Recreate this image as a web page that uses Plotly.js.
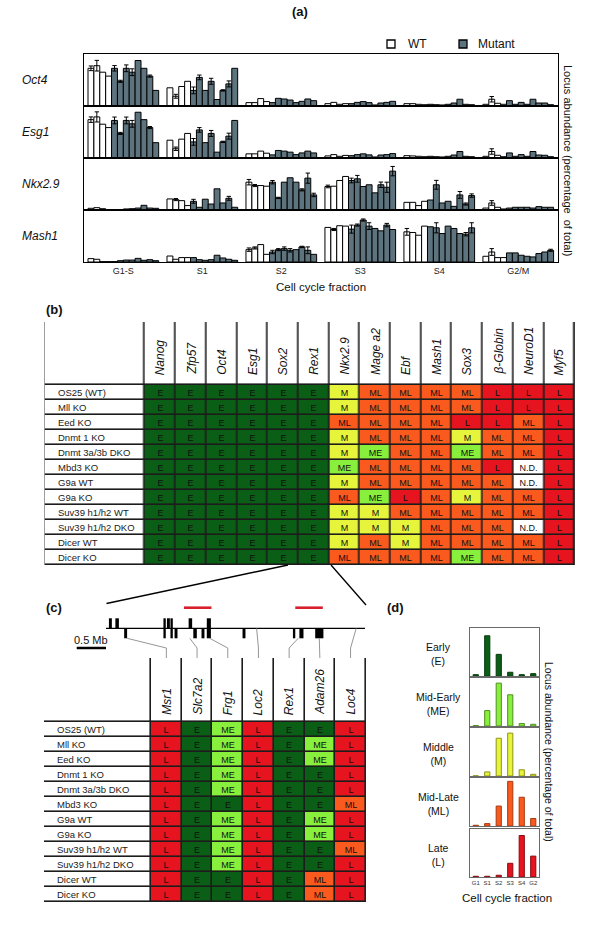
<!DOCTYPE html>
<html><head><meta charset="utf-8">
<script src="https://cdn.plot.ly/plotly-3.0.1.min.js"></script>
<style>html,body{margin:0;padding:0;background:#fff}#chart{width:600px;height:931px}</style>
</head><body><div id="chart"></div>
<script>
// ================= DATA =================
const N = NaN;
// ---- panel (a): locus abundance (% of total) per cell-cycle fraction; 4 WT + 8 mutant lines per fraction
const fractions = ['G1-S','S1','S2','S3','S4','G2/M'];
const rowGenes = ['Oct4','Esg1','Nkx2.9','Mash1'];

const oct4WT     = [29,31,26,23, 14,7.5,15,19, 2.6,2.6,5.7,3.4, 1.8,2.8,1.3,1.8, 1.8,1.8,1.3,1.0, 1.3,5.2,2.1,1.3];
const oct4WTErr  = [1.8,4.1,N,N, N,1.5,N,N, N,N,N,N, N,N,N,N, N,N,N,N, N,2.1,N,N];
const oct4Mut    = [29,19,29,26,35,29,23,12, 12,22,12,19,5,12,17,29, 2.6,5.9,5.4,4.6,2.6,3.6,5.4,4.1,
                    1.8,2.8,3.4,2.6,0.8,2.3,2.8,3.6, 1.3,1.0,0.8,1.3,2.3,5.2,1.3,1.0, 4.1,1.3,2.8,1.3,5.2,2.3,2.3,1.0];
const oct4MutErr = [2.1,0.8,2.6,2.6,N,N,0.8,N, 2.6,1.8,N,2.3,N,0.5,2.3,N, N,N,N,N,N,N,N,N,
                    N,N,N,N,N,N,N,N, N,N,N,N,N,N,N,N, N,N,N,N,N,N,N,N];

const esg1WT     = [29.5,31.6,26,23.4, 13.7,7.1,14.5,18.9, 3.2,3.2,5.3,3.7, 1.6,2.6,1.3,2.0, 1.8,1.6,1.3,1.0, 1.3,5.0,2.1,1.0];
const esg1WTErr  = [2.1,3.9,N,N, N,1.3,N,N, N,N,N,N, N,N,N,N, N,N,N,N, N,2.1,N,N];
const esg1Mut    = [28.9,18.9,28.9,26.3,35.2,29.5,23.4,11.8, 12.4,21.6,11.8,18.9,4.5,12.4,16.8,28.9, 2.4,5.8,5.3,4.5,2.6,3.9,5.3,3.9,
                    1.8,2.6,3.2,2.4,0.8,2.3,2.6,3.4, 1.3,1.0,0.8,1.3,2.3,5.0,1.3,1.0, 3.9,1.3,2.6,1.3,5.0,2.3,2.1,1.0];
const esg1MutErr = [2.6,0.8,2.6,2.6,N,N,0.8,N, 2.6,1.8,N,2.3,N,0.5,2.3,N, N,N,N,N,N,N,N,N,
                    N,N,N,N,N,N,N,N, N,N,N,N,N,N,N,N, N,N,N,N,N,N,N,N];

const nkxWT      = [1.3,1.8,1.0,0.3, 8.5,8.0,7.2,3.4, 21.4,18.8,18.8,18.3, 18.1,18.3,22.7,25.8, 5.9,5.9,3.4,6.7, 1.5,5.4,2.1,0.8];
const nkxWTErr   = [N,N,N,N, N,0.8,N,N, 2.1,0.8,N,N, 1.0,N,N,N, N,N,N,N, N,1.8,N,N];
const nkxMut     = [0.3,0.3,0.8,1.0,1.5,3.6,1.5,1.3, 6.7,2.1,8.3,4.6,16.3,5.4,9.0,2.1, 21.4,9.3,21.4,24.8,21.4,15.5,24.5,11.6,
                    22.7,24.0,18.1,19.4,13.2,19.4,17.5,29.9, 7.7,19.4,5.4,6.7,2.8,11.6,4.6,11.1, 1.5,2.1,2.1,2.1,1.5,2.6,2.1,2.1];
const nkxMutErr  = [N,N,N,N,N,N,N,N, 1.5,N,N,N,N,N,1.5,N, 1.3,0.5,N,N,N,0.8,3.9,1.3,
                    1.8,2.6,N,N,N,2.1,3.9,3.6, N,3.4,N,N,N,2.6,0.8,1.3, N,N,N,N,N,N,N,N];

const mash1WT    = [2.6,2.1,0.3,0.3, 4.6,2.1,3.4,3.4, 9.5,10.8,13.4,5.9, 26.6,25.0,27.9,27.6, 23.2,22.7,20.6,27.6, 4.4,7.7,3.4,3.4];
const mash1WTErr = [N,N,N,N, N,N,N,N, 1.3,0.8,N,N, N,0.8,N,N, 2.6,N,N,N, N,2.6,N,N];
const mash1Mut   = [0.3,1.0,1.5,1.5,2.8,1.3,1.8,1.0, 3.4,1.8,1.3,1.8,5.2,3.1,2.1,1.3, 7.7,9.5,10.3,9.0,9.5,11.6,9.0,5.9,
                    25.3,28.4,32.3,27.6,25.8,24.0,28.4,25.0, 27.1,26.3,21.9,27.6,25.8,21.9,21.4,26.3, 7.0,7.0,5.2,4.4,3.9,6.5,7.7,9.0];
const mash1MutErr= [N,N,N,N,N,N,N,N, N,N,N,N,N,N,N,N, 1.3,0.8,1.3,1.3,N,0.5,2.6,N,
                    3.1,0.8,0.8,2.6,N,N,1.3,N, N,3.9,N,N,N,N,1.3,3.9, N,N,N,N,N,N,N,0.8];

// ---- panel (b): replication timing calls
const tableBRows = ['OS25 (WT)','Mll KO','Eed KO','Dnmt 1 KO','Dnmt 3a/3b DKO','Mbd3 KO','G9a WT','G9a KO',
                    'Suv39 h1/h2 WT','Suv39 h1/h2 DKO','Dicer WT','Dicer KO'];
const tableBGenes = ['Nanog','Zfp57','Oct4','Esg1','Sox2','Rex1','Nkx2.9','Mage a2','Ebf','Mash1','Sox3','β-Globin','NeuroD1','Myf5'];
const tableBCalls = [
  ['E','E','E','E','E','E','M','ML','ML','ML','ML','L','L','L'],
  ['E','E','E','E','E','E','M','ML','ML','ML','ML','L','L','L'],
  ['E','E','E','E','E','E','ML','ML','ML','ML','L','L','ML','L'],
  ['E','E','E','E','E','E','M','ML','ML','ML','M','ML','ML','L'],
  ['E','E','E','E','E','E','M','ME','ML','ML','ME','ML','ML','L'],
  ['E','E','E','E','E','E','ME','ML','ML','ML','ML','L','N.D.','L'],
  ['E','E','E','E','E','E','M','ML','ML','ML','ML','ML','N.D.','L'],
  ['E','E','E','E','E','E','ML','ME','L','ML','M','ML','ML','L'],
  ['E','E','E','E','E','E','M','M','ML','ML','ML','ML','ML','L'],
  ['E','E','E','E','E','E','M','M','M','ML','ML','ML','N.D.','L'],
  ['E','E','E','E','E','E','M','ML','M','ML','ML','ML','ML','L'],
  ['E','E','E','E','E','E','ML','ML','ML','ML','ME','ML','ML','L']
];

// ---- panel (c): Rex1 locus genes
const tableCRows = tableBRows;
const tableCGenes = ['Msr1','Slc7a2','Frg1','Loc2','Rex1','Adam26','Loc4'];
const tableCCalls = [
  ['L','E','ME','L','E','E','L'],
  ['L','E','ME','L','E','ME','L'],
  ['L','E','ME','L','E','ME','L'],
  ['L','E','ME','L','E','E','L'],
  ['L','E','ME','L','E','E','L'],
  ['L','E','E','L','E','E','ML'],
  ['L','E','ME','L','E','ME','L'],
  ['L','E','ME','L','E','ME','L'],
  ['L','E','ME','L','E','E','ML'],
  ['L','E','ME','L','E','E','L'],
  ['L','E','E','L','E','ML','L'],
  ['L','E','E','L','E','ML','L']
];
// gene map (Mb from the left end of the region)
const regionLengthMb = 4.42;
const blockStartMb = [0.05,0.16,0.31,0.98,1.04,1.10,1.17,1.41,1.49,1.63,1.72,2.33,3.19,3.30,3.57];
const blockEndMb   = [0.10,0.22,0.36,1.02,1.09,1.14,1.22,1.47,1.55,1.68,1.79,2.38,3.23,3.37,3.71];
const blockStrand  = ['+','+','-','both','+','both','-','+','-','-','both','-','-','-','-'];
const domainStartMb = [1.33, 3.23];
const domainEndMb   = [1.80, 3.70];
const locusMb       = [0.36, 1.43, 1.77, 2.57, 3.28, 3.64, 4.27];
const locusOnBlock  = [true, true, true, false, true, true, false];
const scaleBarMb = 0.5;

// ---- panel (d): timing class profiles
const timingClasses = ['Early<br>(E)','Mid-Early<br>(ME)','Middle<br>(M)','Mid-Late<br>(ML)','Late<br>(L)'];
const dFractions = ['G1','S1','S2','S3','S4','G2'];
const dEarly    = [1.9, 56.9, 30.6, 5.3, 1.9, 3.3];
const dMidEarly = [0.4, 16.4, 45.6, 33.2, 2.6, 1.8];
const dMiddle   = [0.2, 4.4, 40.7, 46.2, 6.7, 1.8];
const dMidLate  = [0.7, 2.3, 19.2, 43.0, 27.7, 7.2];
const dLate     = [0.9, 0.9, 2.2, 17.3, 52.4, 26.4];

// ================= STYLE / LAYOUT =================
const W = 600, H = 931;
const FONT = 'Arial, "Liberation Sans", sans-serif';
const px = v => v / W, py = v => 1 - v / H;
const classColors = {E:'#0b5e15', ME:'#88f03c', M:'#e6f53c', ML:'#fb5a1e', L:'#e5141e', 'N.D.':'#ffffff'};
const classLines  = {E:'#063a0c', ME:'#4f8f20', M:'#8e9414', ML:'#a53a10', L:'#8a0a10'};
const codeOf = {E:0, ME:1, M:2, ML:3, L:4, 'N.D.':5};
const mutColor = '#5d737d';

const traces = [];
const layout = {
  width: W, height: H, margin:{l:0,r:0,t:0,b:0}, paper_bgcolor:'#fff', plot_bgcolor:'rgba(0,0,0,0)',
  showlegend:false, barmode:'overlay', hovermode:false, font:{family:FONT, color:'#111'},
  shapes:[], annotations:[]
};
const ann = (o) => layout.annotations.push(Object.assign({xref:'paper', yref:'paper', showarrow:false,
  xanchor:'center', yanchor:'middle', font:{family:FONT,size:11,color:'#111'}}, o));

// ---------- panel (a) ----------
const pitch = 13.41;
const xsFor = (nPer, offset) => { const xs = []; fractions.forEach((_, g) => { for (let i = 0; i < nPer; i++) xs.push(g * pitch + offset + i); }); return xs; };
const wtX = xsFor(4, 0), mutX = xsFor(8, 4);
const groupCenters = fractions.map((_, g) => g * pitch + 5.5);
const aSeries = [
  [oct4WT, oct4WTErr, oct4Mut, oct4MutErr],
  [esg1WT, esg1WTErr, esg1Mut, esg1MutErr],
  [nkxWT, nkxWTErr, nkxMut, nkxMutErr],
  [mash1WT, mash1WTErr, mash1Mut, mash1MutErr]
];
const aTop = 54, aRowH = 52;
aSeries.forEach((s, r) => {
  const xa = 'x' + (r + 1), ya = 'y' + (r + 1);
  const eb = arr => ({type:'data', array:arr, symmetric:true, color:'#000', thickness:1, width:2.2});
  traces.push({type:'bar', x:wtX, y:s[0], width:1, xaxis:xa, yaxis:ya, error_y:eb(s[1]),
               marker:{color:'#fff', line:{color:'#000', width:1}}});
  traces.push({type:'bar', x:mutX, y:s[2], width:1, xaxis:xa, yaxis:ya, error_y:eb(s[3]),
               marker:{color:mutColor, line:{color:'#000', width:1}}});
  const top = aTop + aRowH * r, bot = top + aRowH;
  layout['xaxis' + (r + 1)] = {domain:[px(84), px(558)], range:[-1.18, 79.3], anchor:ya, showline:true, mirror:true,
    linecolor:'#000', linewidth:1.2, ticks:'', showgrid:false, zeroline:false, showticklabels: r === 3,
    tickmode:'array', tickvals:groupCenters, ticktext:fractions, tickfont:{size:9, color:'#222', family:FONT}};
  layout['yaxis' + (r + 1)] = {domain:[py(bot), py(top)], range:[0, 40], anchor:xa, showline:true, mirror:true,
    linecolor:'#000', linewidth:1.2, ticks:'', showgrid:false, zeroline:false, showticklabels:false};
  ann({x:px(20), y:py(top + aRowH / 2), xanchor:'left', text:'<i>' + rowGenes[r] + '</i>', font:{family:FONT, size:12, color:'#111'}});
});
ann({x:px(300), y:py(12), text:'<b>(a)</b>', font:{family:FONT, size:13, color:'#111'}});
ann({x:px(321), y:py(287), text:'Cell cycle fraction', font:{family:FONT, size:11.5, color:'#111'}});
ann({x:px(568), y:py(160), text:'Locus abundance (percentage  of total)', textangle:90, font:{family:FONT, size:11, color:'#111'}});
// legend keys
layout.shapes.push({type:'rect', xref:'paper', yref:'paper', x0:px(387), x1:px(395), y0:py(48), y1:py(40), fillcolor:'#fff', line:{color:'#000', width:1.3}});
layout.shapes.push({type:'rect', xref:'paper', yref:'paper', x0:px(459), x1:px(467), y0:py(48), y1:py(40), fillcolor:mutColor, line:{color:'#000', width:1.3}});
ann({x:px(406), y:py(44), xanchor:'left', text:'WT', font:{family:FONT, size:12, color:'#111'}});
ann({x:px(476), y:py(44), xanchor:'left', text:'Mutant', font:{family:FONT, size:12, color:'#111'}});

// ---------- tables (b) and (c) ----------
const cls = ['E','ME','M','ML','L','N.D.'];
const colorscale = [];
cls.forEach((c, k) => { colorscale.push([k / 6, classColors[c]]); colorscale.push([(k + 1) / 6, classColors[c]]); });
function addTable(rows, genes, calls, axN, g) {
  const xa = 'x' + axN, ya = 'y' + axN;
  const labelW = (g.colStart - g.left) / g.colW, headH = (g.headBot - g.top) / g.rowH;
  const xEdges = [-labelW]; for (let j = 0; j <= genes.length; j++) xEdges.push(j);
  const yEdges = [-headH]; for (let i = 0; i <= rows.length; i++) yEdges.push(i);
  const z = [new Array(genes.length + 1).fill(5)], text = [new Array(genes.length + 1).fill('')];
  rows.forEach((r, i) => { z.push([5].concat(calls[i].map(c => codeOf[c]))); text.push([''].concat(calls[i])); });
  layout.shapes.push({type:'rect', xref:xa, yref:ya, x0:-labelW, x1:genes.length, y0:-headH, y1:rows.length, layer:'below',
    fillcolor:'#1c1c1c', line:{color:'#1c1c1c', width:1.2}});
  traces.push({type:'heatmap', x:xEdges, y:yEdges, z:z, text:text, texttemplate:'%{text}', xaxis:xa, yaxis:ya,
    textfont:{family:FONT, size:9, color:'#111'}, colorscale:colorscale, zmin:-0.5, zmax:5.5, showscale:false,
    xgap:1.6, ygap:1.6, hoverinfo:'skip'});
  const right = g.colStart + g.colW * genes.length, bottom = g.headBot + g.rowH * rows.length;
  layout['xaxis' + axN] = {domain:[px(g.left), px(right)], range:[-labelW, genes.length], anchor:ya, visible:false};
  layout['yaxis' + axN] = {domain:[py(bottom), py(g.top)], range:[rows.length, -headH], anchor:xa, visible:false};
  rows.forEach((r, i) => ann({x:px(g.left + 11), y:py(g.headBot + g.rowH * (i + 0.5)), xanchor:'left', text:r,
    font:{family:FONT, size:9.5, color:'#1a1a1a'}}));
  genes.forEach((gn, j) => ann({x:px(g.colStart + g.colW * (j + 0.5)), y:py(g.headBot - g.textPad), xanchor:'center', yanchor:'bottom',
    textangle:-90, text:'<i>' + gn + '</i>', font:{family:FONT, size:12, color:'#111'}}));
}
const gB = {left:44.6, colStart:145, colW:30.7, top:322, headBot:385, rowH:15, textPad:8};
const gC = {left:44, colStart:151, colW:30.7, top:658, headBot:722, rowH:15, textPad:5};
addTable(tableBRows, tableBGenes, tableBCalls, 5, gB);
addTable(tableCRows, tableCGenes, tableCCalls, 7, gC);
ann({x:px(44), y:py(309), xanchor:'left', text:'<b>(b)</b>', font:{family:FONT, size:13, color:'#111'}});
ann({x:px(44), y:py(607), xanchor:'left', text:'<b>(c)</b>', font:{family:FONT, size:13, color:'#111'}});
// zoom lines from (b) to the gene map
layout.shapes.push({type:'line', xref:'paper', yref:'paper', x0:px(288), y0:py(565), x1:px(106.5), y1:py(603.5), line:{color:'#000', width:1.3}});
layout.shapes.push({type:'line', xref:'paper', yref:'paper', x0:px(331), y0:py(565), x1:px(366), y1:py(605), line:{color:'#000', width:1.3}});

// ---------- gene map (c) ----------
const mapPxPerMb = 58.6, mapLeftPx = 71, mapZeroPx = 106;
const x6range = [-(mapZeroPx - mapLeftPx) / mapPxPerMb, regionLengthMb];
layout.xaxis6 = {domain:[px(mapLeftPx), px(mapZeroPx + regionLengthMb * mapPxPerMb)], range:x6range, anchor:'y6', visible:false};
layout.yaxis6 = {domain:[py(658), py(598)], range:[-2.97, 3.03], anchor:'x6', visible:false};
traces.push({type:'bar', xaxis:'x6', yaxis:'y6',
  x: blockStartMb.map((s, i) => (s + blockEndMb[i]) / 2),
  width: blockStartMb.map((s, i) => blockEndMb[i] - s),
  base: blockStrand.map(s => s === '+' ? 0 : -1),
  y: blockStrand.map(s => s === 'both' ? 2 : 1),
  marker:{color:'#000', line:{width:0}}});
traces.push({type:'scatter', mode:'lines', xaxis:'x6', yaxis:'y6', x:[0, regionLengthMb], y:[0, 0], line:{color:'#000', width:1.3}});
domainStartMb.forEach((s, i) => traces.push({type:'scatter', mode:'lines', xaxis:'x6', yaxis:'y6', x:[s, domainEndMb[i]], y:[2.06, 2.06], line:{color:'#d8202c', width:2.6}}));
traces.push({type:'scatter', mode:'lines', xaxis:'x6', yaxis:'y6', x:[-scaleBarMb, 0], y:[-1.97, -1.97], line:{color:'#000', width:2.5}});
layout.annotations.push({xref:'x6', yref:'y6', x:-scaleBarMb / 2, y:-1.2, xanchor:'center', yanchor:'middle', text:'0.5 Mb', showarrow:false, font:{family:FONT, size:11, color:'#111'}});
const cx = [], cy = [];
locusMb.forEach((m, k) => {
  const colPx = gC.colStart + gC.colW * (k + 0.5);
  const colMb = (colPx - mapZeroPx) / mapPxPerMb;
  cx.push(m, colMb, colMb, null); cy.push(locusOnBlock[k] ? -1 : 0, -1.97, -2.97, null);
});
traces.push({type:'scatter', mode:'lines', xaxis:'x6', yaxis:'y6', x:cx, y:cy, line:{color:'#8a8a8a', width:0.9}, cliponaxis:false});

// ---------- panel (d) ----------
const dSeries = [dEarly, dMidEarly, dMiddle, dMidLate, dLate];
const dKeys = ['E','ME','M','ML','L'];
const dTops = [628, 678, 728, 778, 829], dH = 48;
const dMaxFrac = [0.838, 0.893, 0.893, 0.93, 0.864];
dSeries.forEach((vals, k) => {
  const n = 8 + k, xa = 'x' + n, ya = 'y' + n;
  traces.push({type:'bar', x:dFractions, y:vals, width:0.45, xaxis:xa, yaxis:ya,
    marker:{color:classColors[dKeys[k]], line:{color:classLines[dKeys[k]], width:1}}});
  layout['xaxis' + n] = {domain:[px(470), px(539)], type:'category', range:[-0.5, 5.5], anchor:ya, showline:true, mirror:true,
    linecolor:'#6a6a6a', linewidth:1.1, ticks:'', showgrid:false, zeroline:false, showticklabels:k === 4,
    tickfont:{size:6, color:'#333', family:FONT}};
  layout['yaxis' + n] = {domain:[py(dTops[k] + dH), py(dTops[k])], range:[0, Math.max(...vals) / dMaxFrac[k]], anchor:xa,
    showline:true, mirror:true, linecolor:'#6a6a6a', linewidth:1.1, ticks:'', showgrid:false, zeroline:false, showticklabels:false};
  ann({x:px(438), y:py(dTops[k] + dH / 2 + 2), text:timingClasses[k], font:{family:FONT, size:10.5, color:'#111'}});
});
ann({x:px(395), y:py(607), text:'<b>(d)</b>', font:{family:FONT, size:13, color:'#111'}});
ann({x:px(507), y:py(898), text:'Cell cycle fraction', font:{family:FONT, size:11.5, color:'#111'}});
ann({x:px(549), y:py(752), text:'Locus abundance (percentage of total)', textangle:90, font:{family:FONT, size:10.5, color:'#111'}});

Plotly.newPlot('chart', traces, layout, {staticPlot:true, displayModeBar:false});
</script>
</body></html>
